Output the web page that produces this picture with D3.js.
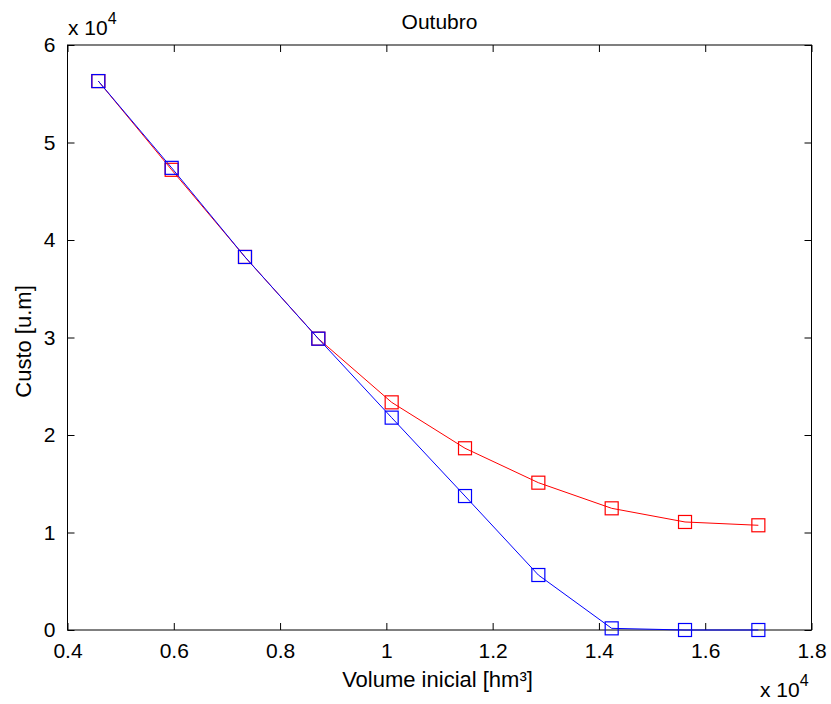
<!DOCTYPE html>
<html>
<head>
<meta charset="utf-8">
<script src="https://cdn.jsdelivr.net/npm/d3@7/dist/d3.min.js"></script>
<style>
html,body{margin:0;padding:0;background:#fff;}
svg text{font-family:"Liberation Sans",Arial,sans-serif;fill:#000;}
</style>
</head>
<body>
<svg id="chart" width="831" height="704"></svg>
<script>
const title = "Outubro";
const xLabel = "Volume inicial [hm³]";
const yLabel = "Custo [u.m]";
const volumes = [4580, 5960, 7340, 8720, 10100, 11480, 12860, 14240, 15620, 17000];
const custoRed = [56300, 47200, 38260, 29880, 23350, 18640, 15110, 12480, 11080, 10740];
const custoBlue = [56300, 47400, 38260, 29880, 21780, 13740, 5640, 170, 0, 0];
const xTicks = [4000, 6000, 8000, 10000, 12000, 14000, 16000, 18000];
const yTicks = [0, 10000, 20000, 30000, 40000, 50000, 60000];

const svg = d3.select("#chart");
const L = 67.5, R = 811.5, T = 45, B = 630;
const x = d3.scaleLinear().domain([4000, 18000]).range([L, R]);
const y = d3.scaleLinear().domain([0, 60000]).range([B, T]);
const fs = 21, tl = 7;
const fmtY = d => String(d / 10000);

// plot frame
svg.append("rect").attr("x", L).attr("y", T).attr("width", R - L).attr("height", B - T)
  .attr("fill", "#fff").attr("stroke", "#000").attr("stroke-width", 1);

// axes with inward ticks
const gx = svg.append("g").attr("transform", `translate(0,${B})`)
  .call(d3.axisBottom(x).tickValues(xTicks).tickSize(-tl).tickPadding(tl + 6)
    .tickFormat(d => { const v = d / 10000; return Number.isInteger(v) ? String(v) : v.toFixed(1); }));
const gxt = svg.append("g").attr("transform", `translate(0,${T})`)
  .call(d3.axisTop(x).tickValues(xTicks).tickSize(-tl).tickFormat(""));
const gy = svg.append("g").attr("transform", `translate(${L},0)`)
  .call(d3.axisLeft(y).tickValues(yTicks).tickSize(-tl).tickPadding(tl + 5).tickFormat(fmtY));
const gyr = svg.append("g").attr("transform", `translate(${R},0)`)
  .call(d3.axisRight(y).tickValues(yTicks).tickSize(-tl).tickFormat(""));
[gx, gxt, gy, gyr].forEach(g => {
  g.select(".domain").remove();
  g.selectAll("line").attr("stroke", "#000").attr("stroke-width", 1);
  g.selectAll("text").style("font-size", fs + "px").attr("fill", "#000")
    .style("font-family", "'Liberation Sans', Arial, sans-serif");
});
gx.selectAll("text").attr("dy", "0.71em");

// series
const line = d3.line().x((d, i) => x(volumes[i])).y(d => y(d));
const ms = 13;
function drawSeries(vals, color) {
  svg.append("path").datum(vals).attr("d", line).attr("fill", "none")
    .attr("stroke", color).attr("stroke-width", 1);
  svg.append("g").selectAll("rect").data(vals).join("rect")
    .attr("x", (d, i) => x(volumes[i]) - ms / 2).attr("y", d => y(d) - ms / 2)
    .attr("width", ms).attr("height", ms)
    .attr("fill", "none").attr("stroke", color).attr("stroke-width", 1.2);
}
drawSeries(custoRed, "#ff0000");
drawSeries(custoBlue, "#0000ff");

// title and labels
svg.append("text").attr("x", (L + R) / 2).attr("y", 29).attr("text-anchor", "middle")
  .style("font-size", "21px").text(title);
svg.append("text").attr("x", (L + R) / 2 - 2).attr("y", 687).attr("text-anchor", "middle")
  .style("font-size", "22px").text(xLabel);
svg.append("text").attr("transform", `translate(31,${(T + B) / 2 + 4}) rotate(-90)`)
  .attr("text-anchor", "middle").style("font-size", "22px").text(yLabel);

// exponent labels
function expLabel(xp, yp) {
  const t = svg.append("text").attr("x", xp).attr("y", yp).style("font-size", fs + "px");
  t.append("tspan").text("x 10");
  t.append("tspan").attr("dy", -11).style("font-size", "16px").text("4");
}
expLabel(68, 35);
expLabel(760, 697);
</script>
</body>
</html>
